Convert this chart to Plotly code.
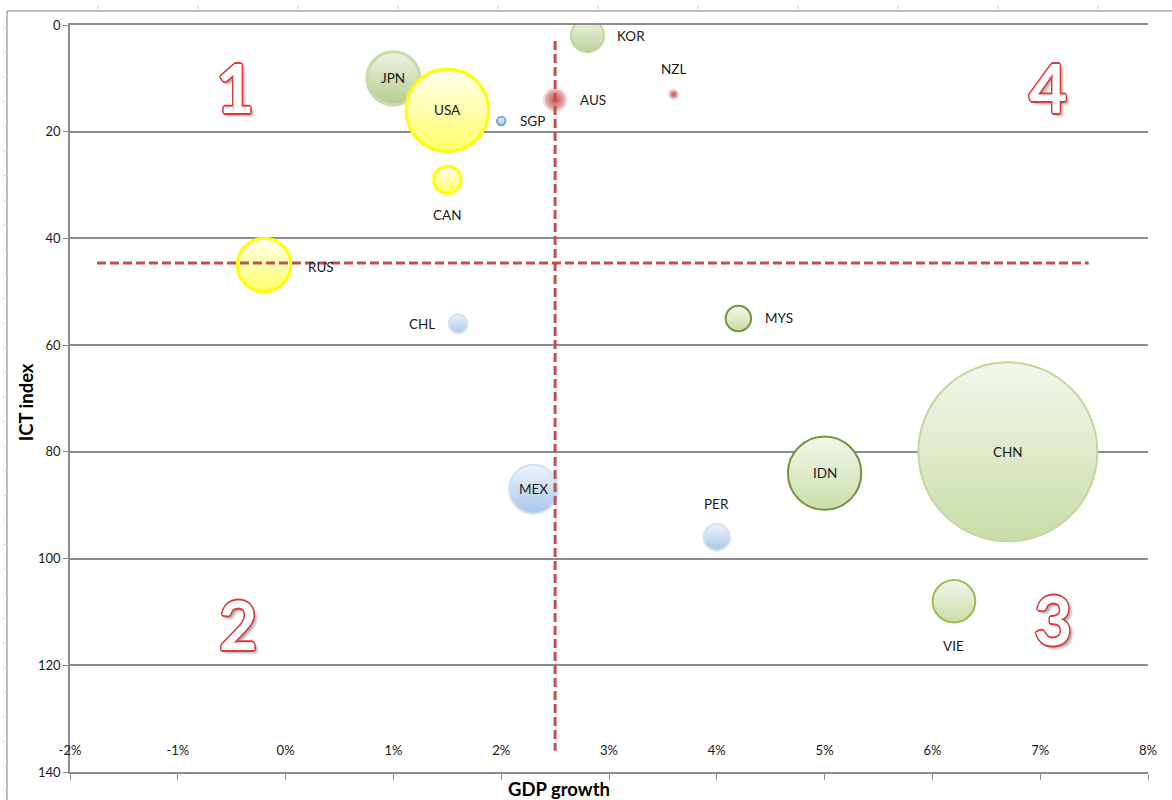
import plotly.graph_objects as go

# ---------------- data ----------------
countries = ["JPN", "USA", "SGP", "AUS", "KOR", "NZL", "CAN", "RUS",
             "CHL", "MYS", "MEX", "PER", "IDN", "CHN", "VIE"]
gdp_growth = [0.010, 0.015, 0.020, 0.025, 0.028, 0.036, 0.015, -0.002,
              0.016, 0.042, 0.023, 0.040, 0.050, 0.067, 0.062]
ict_index = [10, 16, 18, 14, 2, 13, 29, 45,
             56, 55, 87, 96, 84, 80, 108]
population = [118, 285, 3, 21, 46, 4, 31, 120,
              15, 27, 100, 29, 225, 1340, 76]
group = ["green", "yellow", "blue", "red", "green", "red", "yellow", "yellow",
         "blue", "green", "blue", "blue", "green", "green", "green"]

x_tick_vals = [-0.02, -0.01, 0.0, 0.01, 0.02, 0.03, 0.04, 0.05, 0.06, 0.07, 0.08]
x_tick_labels = ["-2%", "-1%", "0%", "1%", "2%", "3%", "4%", "5%", "6%", "7%", "8%"]
y_tick_vals = [0, 20, 40, 60, 80, 100, 120, 140]

# threshold (quadrant) lines
h_line_x = [-0.0175, 0.0745]
h_line_y = [44.6, 44.6]
v_line_x = [0.025, 0.025]
v_line_y = [3, 136]

quadrant_labels = ["1", "2", "3", "4"]

# ---------------- styles ----------------
group_style = {
    "green": dict(fill="#f3f7ea", grad="#cadda8", gtype="vertical", line="#c4d79b", lw=2),
    "yellow": dict(fill="#fffff2", grad="#ffff66", gtype="vertical", line="#ffff00", lw=3),
    "blue": dict(fill="#eef4fb", grad="#a9c6ea", gtype="vertical", line="#d4e1f2", lw=2),
    "red": dict(fill="#ecc4c3", grad="#c0504d", gtype="radial", line="#f2dcdb", lw=2),
}
line_override = {"IDN": ("#77933c", 2), "MYS": ("#77933c", 2), "VIE": ("#9bbb59", 2),
                 "SGP": ("#7aa5dc", 2), "JPN": ("#c9dbaa", 3)}
fill_override = {"JPN": ("#edf3e2", "#b6cc90"), "KOR": ("#eef4e4", "#bcd19a")}

label_offset = {  # (dx, dy) in px
    "KOR": (44, 0), "NZL": (0, 25), "AUS": (38, 0), "SGP": (31, 0),
    "CAN": (0, -35), "RUS": (57, -2), "CHL": (-36, 0), "MYS": (41, 0),
    "PER": (0, 33), "VIE": (0, -45),
}

fills, grads, gtypes, lcols, lws = [], [], [], [], []
for c, g in zip(countries, group):
    s = group_style[g]
    f, gr = fill_override.get(c, (s["fill"], s["grad"]))
    lc, lw = line_override.get(c, (s["line"], s["lw"]))
    fills.append(f); grads.append(gr); gtypes.append(s["gtype"])
    lcols.append(lc); lws.append(lw)

max_diam = 179
sizeref = 2.0 * max(population) / (max_diam ** 2)

fig = go.Figure()

fig.add_trace(go.Scatter(
    x=gdp_growth, y=ict_index, mode="markers",
    text=countries, hoverinfo="text",
    marker=dict(size=population, sizemode="area", sizeref=sizeref, sizemin=3,
                color=fills, gradient=dict(type=gtypes, color=grads),
                line=dict(color=lcols, width=lws), opacity=1),
    showlegend=False,
))

dash_style = dict(color="#c0504d", width=3, dash="9px,4px")
fig.add_trace(go.Scatter(x=h_line_x, y=h_line_y, mode="lines", line=dash_style,
                         showlegend=False, hoverinfo="skip"))
fig.add_trace(go.Scatter(x=v_line_x, y=v_line_y, mode="lines", line=dash_style,
                         showlegend=False, hoverinfo="skip"))

# country labels
annotations = []
for c, xv, yv in zip(countries, gdp_growth, ict_index):
    dx, dy = label_offset.get(c, (0, 0))
    annotations.append(dict(x=xv, y=yv, xref="x", yref="y", text=c, showarrow=False,
                            xshift=dx, yshift=dy,
                            font=dict(family="Lato, Open Sans, sans-serif", size=13.5, color="#1a1a1a")))

# quadrant numbers
red = "#dd3b3b"
o = 1.6
outline = ", ".join([f"{a}px {b}px 0 {red}" for a, b in
                     [(o, 0), (-o, 0), (0, o), (0, -o), (1.1, 1.1), (-1.1, -1.1), (1.1, -1.1), (-1.1, 1.1)]])
outline += ", 3px 3px 3px rgba(0,0,0,0.35)"
quad_pos = [(-0.0047, 11.8), (-0.0044, 112.3), (0.0712, 111.5), (0.0707, 11.8)]
for lab, (qx, qy) in zip(quadrant_labels, quad_pos):
    annotations.append(dict(x=qx, y=qy, xref="x", yref="y", text=lab, showarrow=False,
                            font=dict(family="Lato, Open Sans, sans-serif", size=66,
                                      color="white", weight="bold", shadow=outline)))

# axis titles
title_font = dict(family="Lato, Open Sans, sans-serif", size=18.5, color="black", weight="bold")
annotations.append(dict(x=0.4536, y=-0.0228, xref="paper", yref="paper",
                        xanchor="center", yanchor="middle",
                        text="GDP growth", showarrow=False, font=title_font))
annotations.append(dict(x=-0.0408, y=0.495, xref="paper", yref="paper", textangle=-90,
                        xanchor="center", yanchor="middle",
                        text="ICT index", showarrow=False, font=title_font))

# outer frame (decoration)
shapes = []
def px2px_x(px):
    return (px - 70) / 1078.0
def py2py_y(py):
    return 1 - (py - 25) / 747.0
frame_col = "#a6a6a6"
shapes.append(dict(type="line", xref="paper", yref="paper", x0=px2px_x(7), x1=px2px_x(1172),
                   y0=py2py_y(11), y1=py2py_y(11), line=dict(color=frame_col, width=1.5)))
shapes.append(dict(type="line", xref="paper", yref="paper", x0=px2px_x(7), x1=px2px_x(7),
                   y0=py2py_y(11), y1=py2py_y(800), line=dict(color=frame_col, width=1.5)))
for k in range(11):
    xx = 98 + 100 * k
    shapes.append(dict(type="line", xref="paper", yref="paper", x0=px2px_x(xx), x1=px2px_x(xx),
                       y0=py2py_y(5), y1=py2py_y(11), line=dict(color="#cfcfcf", width=1)))
for k in range(32):
    yy = 28 + 24.6 * k
    shapes.append(dict(type="line", xref="paper", yref="paper", x0=px2px_x(4), x1=px2px_x(7),
                       y0=py2py_y(yy), y1=py2py_y(yy), line=dict(color="#cfcfcf", width=1)))

axis_font = dict(family="Lato, Open Sans, sans-serif", size=13, color="#1a1a1a")
fig.update_layout(
    width=1172, height=800,
    margin=dict(l=70, r=24, t=25, b=28),
    paper_bgcolor="white", plot_bgcolor="white",
    xaxis=dict(range=[-0.02, 0.08], tickvals=x_tick_vals, ticktext=x_tick_labels,
               ticklabelposition="inside", ticklabeloverflow="allow", ticklabelstandoff=14,
               ticks="outside", ticklen=6, tickcolor="#8c8c8c",
               showline=True, mirror=True, linecolor="#8c8c8c", linewidth=1.5,
               showgrid=False, zeroline=False, tickfont=axis_font),
    yaxis=dict(range=[140, 0], tickvals=y_tick_vals, ticks="outside", ticklen=5,
               tickcolor="#8c8c8c", showline=True, linecolor="#8c8c8c", linewidth=1.5,
               showgrid=True, gridcolor="#8c8c8c", gridwidth=1.5,
               zeroline=False, tickfont=axis_font),
    annotations=annotations,
    shapes=shapes,
)

fig.write_html("out.html", config={"displayModeBar": False},
               post_script="document.body.style.margin='0';")
